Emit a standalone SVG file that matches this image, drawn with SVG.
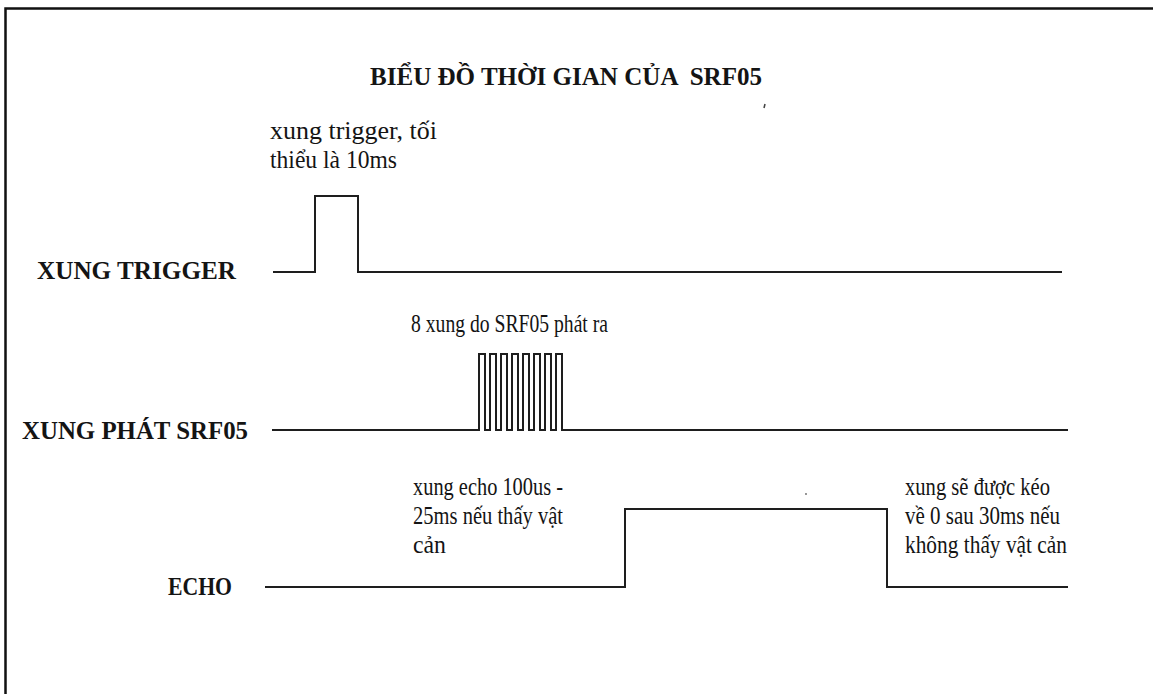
<svg xmlns="http://www.w3.org/2000/svg" width="1153" height="694" viewBox="0 0 1153 694">
<style>
.t{font-family:"Liberation Serif","Times New Roman",serif;font-size:25px;fill:#141414;white-space:pre}
.b{font-weight:bold;font-size:26px}
.w{fill:none;stroke:#1e1e1e;stroke-width:2}
</style>
<rect x="0" y="0" width="1153" height="694" fill="#fff"/>
<path d="M5.5,694 V8.5 H1153" fill="none" stroke="#111" stroke-width="2.5"/>
<g id="title"><text class="t b" x="370" y="85" textLength="392" lengthAdjust="spacingAndGlyphs">BIỂU ĐỒ THỜI GIAN CỦA  SRF05</text></g>
<g id="label-trigger"><text class="t b" x="37" y="279" textLength="199" lengthAdjust="spacingAndGlyphs">XUNG TRIGGER</text></g>
<g id="label-phat"><text class="t b" x="22" y="439" textLength="226" lengthAdjust="spacingAndGlyphs">XUNG PHÁT SRF05</text></g>
<g id="label-echo"><text class="t b" x="168" y="595" textLength="64" lengthAdjust="spacingAndGlyphs">ECHO</text></g>
<g id="note-trigger">
<text class="t" x="270" y="139" textLength="167" lengthAdjust="spacingAndGlyphs">xung trigger, tối</text>
<text class="t" x="270" y="168" textLength="127" lengthAdjust="spacingAndGlyphs">thiểu là 10ms</text>
</g>
<g id="note-phat"><text class="t" x="411" y="332" textLength="197" lengthAdjust="spacingAndGlyphs">8 xung do SRF05 phát ra</text></g>
<g id="note-echo">
<text class="t" x="413" y="495" textLength="150" lengthAdjust="spacingAndGlyphs">xung echo 100us -</text>
<text class="t" x="413" y="524" textLength="150" lengthAdjust="spacingAndGlyphs">25ms nếu thấy vật</text>
<text class="t" x="413" y="553" textLength="33" lengthAdjust="spacingAndGlyphs">cản</text>
</g>
<g id="note-timeout">
<text class="t" x="905" y="495" textLength="145" lengthAdjust="spacingAndGlyphs">xung sẽ được kéo</text>
<text class="t" x="905" y="524" textLength="155" lengthAdjust="spacingAndGlyphs">về 0 sau 30ms nếu</text>
<text class="t" x="905" y="553" textLength="162" lengthAdjust="spacingAndGlyphs">không thấy vật cản</text>
</g>
<g id="connectors">
<path id="wave-trigger" class="w" d="M273,272 H315 V196 H358 V272 H1062"/>
<path id="wave-phat" class="w" d="M272,430 H479 V354 H485 V430 H490 V354 H496 V430 H501 V354 H507 V430 H512 V354 H518 V430 H523 V354 H529 V430 H534 V354 H540 V430 H545 V354 H551 V430 H556 V354 H562 V430 H1068"/>
<path id="wave-echo" class="w" d="M265,587 H625 V509 H887 V587 H1068"/>
</g>
<path d="M765,104 L764,108" stroke="#444" stroke-width="1.5"/>
<circle cx="806" cy="494" r="0.9" fill="#666"/>
</svg>
